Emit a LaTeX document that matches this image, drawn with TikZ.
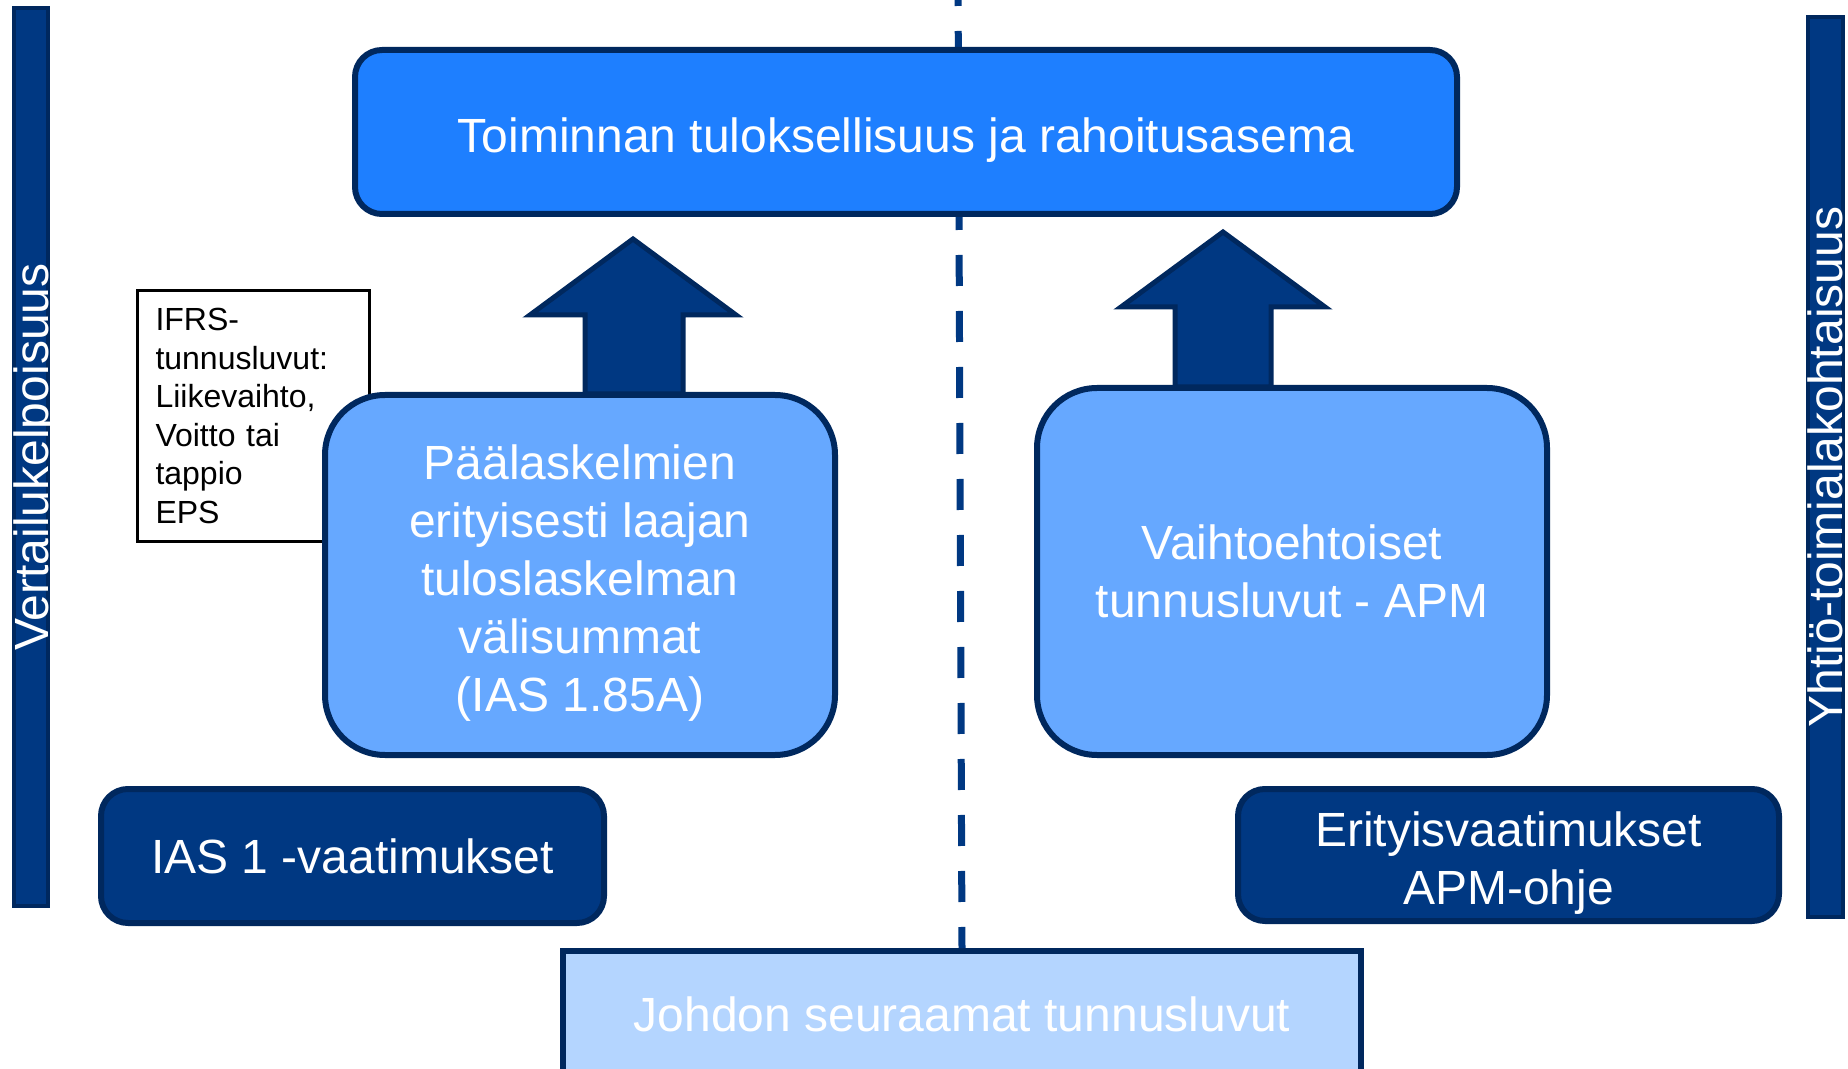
\documentclass[tikz,border=0pt]{standalone}
\usepackage{fontspec}
\setmainfont{Liberation Sans}
\definecolor{topblue}{RGB}{30,127,255}
\definecolor{midblue}{RGB}{102,168,255}
\definecolor{darkblue}{RGB}{0,56,130}
\definecolor{edgeblue}{RGB}{0,40,94}
\definecolor{paleblue}{RGB}{180,213,255}
\newcommand\lowerstrut{\rule{0pt}{25pt}}
\begin{document}
\begin{tikzpicture}[x=0.5pt,y=-0.5pt,
  box/.style={draw=edgeblue, line width=3pt, inner sep=0pt, text=white, align=center,
    font=\fontsize{24}{29}\selectfont},
  roundbig/.style={box, rounded corners=30pt, fill=midblue},
  roundsmall/.style={box, rounded corners=13.5pt},
  sidebar/.style={draw=edgeblue, line width=2pt, fill=darkblue, inner sep=0pt, rotate=90,
    text=white, font=\fontsize{24}{29}\selectfont, text height=17.2pt, text depth=0pt},
  ifrsbox/.style={draw=black, line width=1.5pt, fill=white, inner sep=0pt, align=left,
    text width=98pt, font=\fontsize{16}{19.25}\selectfont},
  blockarrow/.style={draw=edgeblue, line width=2.5pt, fill=darkblue, line join=miter},
  divider/.style={draw=darkblue, line width=3.5pt, dash pattern=on 15.5pt off 12.5pt},
]
\useasboundingbox (0,0) rectangle (1848,1069);
\clip (0,0) rectangle (1848,1069);
\fill[white] (0,0) rectangle (1848,1069);

% side bars
\node[sidebar, minimum width=449pt, minimum height=17pt] (leftbar) at (31,457) {Vertailukelpoisuus};
\node[sidebar, minimum width=450pt, minimum height=17.5pt] (rightbar) at (1825.5,467) {Yhtiö-toimialakohtaisuus};

% bottom box (drawn first so divider ends on it)
\node[box, fill=paleblue, minimum width=399pt, minimum height=63pt] (johdon) at (962,1014) {Johdon seuraamat tunnusluvut};

% dashed divider
\coordinate (dtop) at (958,-25);
\draw[divider] (dtop) -- (johdon.north);

% IFRS note
\node[ifrsbox, minimum width=116pt, minimum height=125.5pt] (ifrs) at (253.5,416)
  {IFRS-\\tunnusluvut:\\Liikevaihto,\\Voitto tai\\tappio\\EPS};

% main boxes
\node[roundsmall, fill=topblue, minimum width=551pt, minimum height=82pt] (top) at (906,132)
  {\lowerstrut Toiminnan tuloksellisuus ja rahoitusasema};
\node[roundbig, minimum width=255pt, minimum height=180pt] (ias185) at (580,575)
  {\lowerstrut Päälaskelmien\\erityisesti laajan\\tuloslaskelman\\välisummat\\(IAS 1.85A)};
\node[roundbig, minimum width=255pt, minimum height=183.5pt] (apm) at (1292,571.5)
  {Vaihtoehtoiset\\tunnusluvut - APM};
\node[roundsmall, fill=darkblue, minimum width=251.5pt, minimum height=67pt] (ias1) at (352.5,856)
  {IAS 1 -vaatimukset};
\node[roundsmall, fill=darkblue, minimum width=270.5pt, minimum height=66pt] (erit) at (1508.5,855)
  {\lowerstrut Erityisvaatimukset\\APM-ohje};

% block arrows
\draw[blockarrow] (585,394) -- (585,315) -- (530,315) -- (633,239) -- (736,315) -- (683,315) -- (683,394) -- cycle;
\draw[blockarrow] (1175,387) -- (1175,307) -- (1121,307) -- (1223,232) -- (1325,307) -- (1271,307) -- (1271,387) -- cycle;
\end{tikzpicture}
\end{document}
